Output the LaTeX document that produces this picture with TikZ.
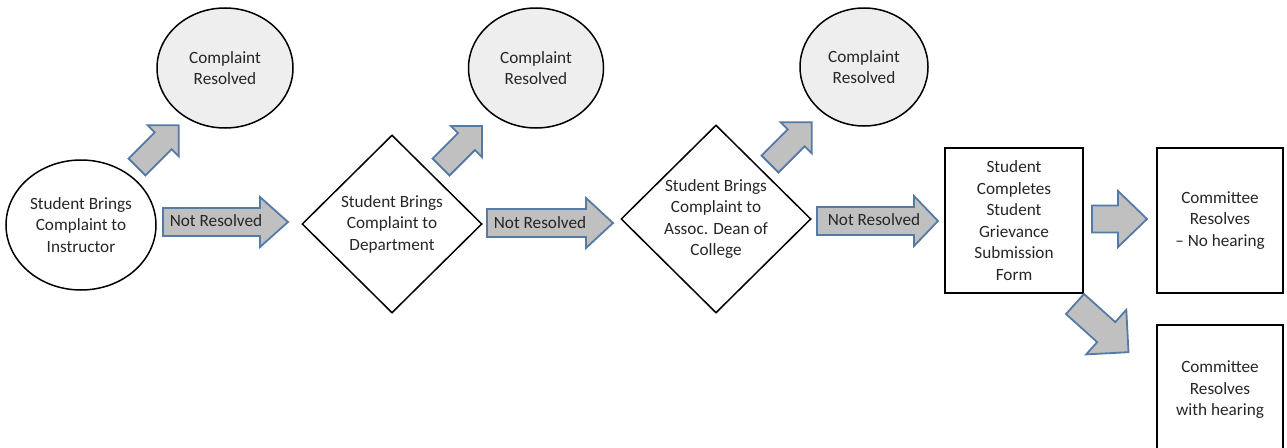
\documentclass[tikz,border=0pt]{standalone}
\usepackage{fontspec}
\setmainfont{Carlito}
\usetikzlibrary{shapes.geometric}
\definecolor{arrowblue}{RGB}{84,122,166}
\definecolor{arrowfill}{RGB}{192,192,192}
\definecolor{resfill}{RGB}{238,238,238}
\tikzset{
  every node/.style={font=\fontsize{17.2}{21.5}\selectfont, text=black!85, align=center},
  blob/.style={ellipse, draw=black, line width=1.5pt, inner sep=0pt},
  resolved/.style={blob, fill=resfill},
  decide/.style={diamond, draw=black, line width=1.5pt, inner sep=0pt},
  stepbox/.style={rectangle, draw=black, line width=1.5pt, inner sep=0pt},
  barrowstyle/.style={draw=arrowblue, fill=arrowfill, line width=1.8pt, line join=miter},
  pics/barrow/.style args={#1/#2/#3/#4}{code={
    \draw[barrowstyle] (0,-#2) -- (#1-#4,-#2) -- (#1-#4,-#3) -- (#1,0) -- (#1-#4,#3) -- (#1-#4,#2) -- (0,#2) -- cycle;}},
}
\begin{document}
\begin{tikzpicture}[x=1pt,y=-1pt]
\useasboundingbox (0,0) rectangle (1287,447);
% nodes
\node[blob, minimum width=150, minimum height=130] (inst) at (81,225) {Student Brings\\Complaint to\\Instructor};
\node[resolved, minimum width=136, minimum height=120] (res1) at (225,68) {Complaint\\Resolved};
\node[decide, minimum width=180, minimum height=178] (dep) at (392,224) {Student Brings\\Complaint to\\Department};
\node[resolved, minimum width=135, minimum height=120] (res2) at (536,68) {Complaint\\Resolved};
\node[decide, minimum width=190, minimum height=188] (dean) at (716,219) {Student Brings\\Complaint to\\Assoc. Dean of\\College};
\node[resolved, minimum width=128, minimum height=118] (res3) at (864,67) {Complaint\\Resolved};
\node[stepbox, minimum width=138, minimum height=145] (form) at (1014,220.5) {Student\\Completes\\Student\\Grievance\\Submission\\Form};
\node[stepbox, minimum width=126, minimum height=145] (noh) at (1220,220.5) {Committee\\Resolves\\\textendash\ No hearing};
\node[stepbox, minimum width=126, minimum height=130] (wh) at (1220,390) {Committee\\Resolves\\with hearing};
% block arrows
\pic[rotate=45] (d1) at (137,167) {barrow=59/12/22/22};
\pic[rotate=45] (d2) at (441,167) {barrow=58/12/22/22};
\pic[rotate=45] (d3) at (770,164) {barrow=59/12/22/22};
\pic (h1) at (163,222) {barrow=125/14/25/28};
\pic (h2) at (487,223) {barrow=126/14/25/27};
\pic (h3) at (817,221) {barrow=121/14/25/24};
\pic (h4) at (1092,219) {barrow=55/13.5/28/29};
\pic[rotate=-42] (d4) at (1075,304) {barrow=72/13.5/30/30};
% labels on arrows
\node (l1) at (216,221) {Not Resolved};
\node (l2) at (540,223) {Not Resolved};
\node (l3) at (874,220) {Not Resolved};
\end{tikzpicture}
\end{document}
